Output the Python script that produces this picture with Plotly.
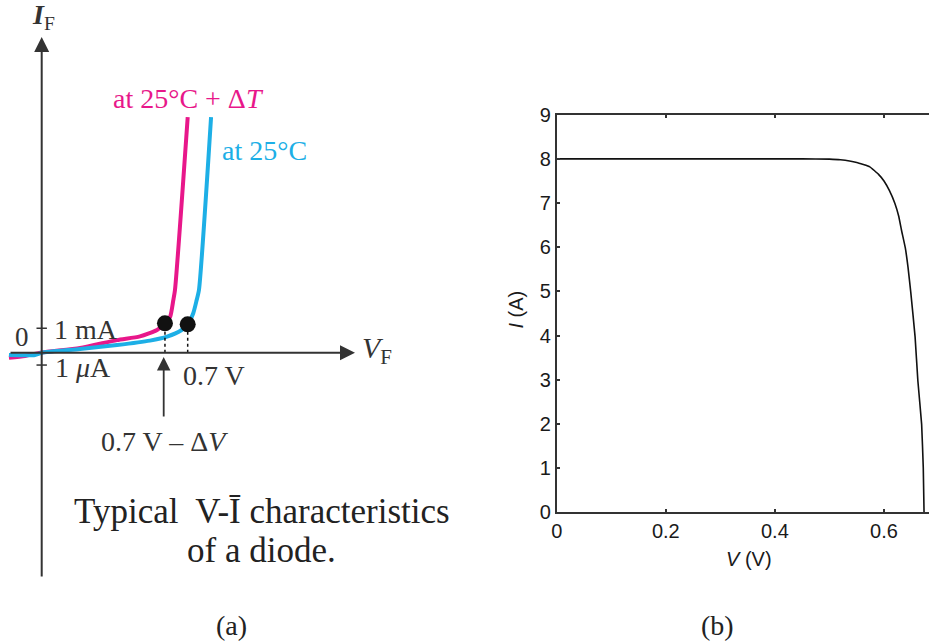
import plotly.graph_objects as go

W, H = 929, 642

# ---------------- (a) schematic diode curves (VF in V, IF in schematic mA units)
vf_hot = [-0.157, -0.080, 0.0, 0.184, 0.361, 0.471, 0.553, 0.591, 0.616, 0.631, 0.639, 0.700]
if_hot = [-0.20, -0.13, 0.01, 0.19, 0.51, 0.66, 0.92, 1.19, 1.46, 2.13, 2.54, 9.54]
vf_25 = [-0.157, -0.032, 0.0, 0.184, 0.361, 0.519, 0.601, 0.671, 0.700, 0.727, 0.743, 0.754, 0.812]
if_25 = [-0.09, -0.09, 0.0, 0.15, 0.31, 0.49, 0.65, 0.92, 1.15, 1.61, 2.13, 2.54, 9.54]
knee_vf = [0.591, 0.700]
knee_if = [1.19, 1.15]

# ---------------- (b) solar cell I-V curve
v_cell = [0, 0.1, 0.2, 0.3, 0.4, 0.45, 0.5, 0.52, 0.55, 0.574, 0.59, 0.60, 0.61, 0.62,
          0.627, 0.632, 0.639, 0.644, 0.649, 0.657, 0.662, 0.669, 0.672, 0.6734]
i_cell = [8, 8, 8, 8, 8, 8, 7.995, 7.98, 7.92, 7.82, 7.65, 7.50, 7.28, 6.99,
          6.70, 6.39, 5.99, 5.55, 4.99, 3.97, 2.99, 1.99, 1.0, 0]
x_ticks_b = [0, 0.2, 0.4, 0.6]
y_ticks_b = [0, 1, 2, 3, 4, 5, 6, 7, 8, 9]

MAGENTA = "#E8178A"
CYAN = "#1DAFE6"
INK = "#333333"
SERIF = "Liberation Serif, Times New Roman, serif"
SANS = "Liberation Sans, Arial, sans-serif"

fig = go.Figure()

fig.add_trace(go.Scatter(x=vf_hot, y=if_hot, mode="lines", xaxis="x", yaxis="y",
                         line=dict(color=MAGENTA, width=4, shape="spline", smoothing=0.6),
                         hoverinfo="skip"))
fig.add_trace(go.Scatter(x=vf_25, y=if_25, mode="lines", xaxis="x", yaxis="y",
                         line=dict(color=CYAN, width=4, shape="spline", smoothing=0.6),
                         hoverinfo="skip"))
# dotted drop lines
for v, i in zip(knee_vf, knee_if):
    fig.add_trace(go.Scatter(x=[v, v], y=[0, i], mode="lines", xaxis="x", yaxis="y",
                             line=dict(color="#111", width=1.5, dash="dot"), hoverinfo="skip"))
fig.add_trace(go.Scatter(x=knee_vf, y=knee_if, mode="markers", xaxis="x", yaxis="y",
                         marker=dict(size=16, color="#111"), hoverinfo="skip"))

# vertical axis ticks (1 mA / 1 uA)
for yv in [0.99, -0.5]:
    fig.add_trace(go.Scatter(x=[-0.025, 0.025], y=[yv, yv], mode="lines", xaxis="x", yaxis="y",
                             line=dict(color=INK, width=1.5), hoverinfo="skip"))

# (b) curve
fig.add_trace(go.Scatter(x=v_cell, y=i_cell, mode="lines", xaxis="x2", yaxis="y2",
                         line=dict(color="#111", width=1.6, shape="spline", smoothing=0.3),
                         hoverinfo="skip"))

# left panel coordinate mapping
ORIG_PX, PX_PER_V = 41.7, 208.57
ORIG_PY, PX_PER_MA = 352.7, 24.7
xa_rng = [-ORIG_PX / PX_PER_V, (W * 0.5 - ORIG_PX) / PX_PER_V]
ya_rng = [-(H - ORIG_PY) / PX_PER_MA, ORIG_PY / PX_PER_MA]

# right panel mapping
b_left, b_bottom, b_top = 556.7, 512.3, 114.7
b_px_per_v = 545.5

fig.update_layout(
    template="none",
    width=W, height=H, margin=dict(l=0, r=0, t=0, b=0, pad=0, autoexpand=False),
    paper_bgcolor="white", plot_bgcolor="rgba(0,0,0,0)", showlegend=False,
    xaxis=dict(domain=[0, 0.5], range=xa_rng, visible=False, fixedrange=True, automargin=False),
    yaxis=dict(domain=[0, 1], range=ya_rng, visible=False, fixedrange=True, automargin=False),
    xaxis2=dict(domain=[b_left / W, 1], range=[0, (W - b_left) / b_px_per_v], anchor="y2",
                tickvals=x_ticks_b, ticktext=["0", "0.2", "0.4", "0.6"],
                showline=True, linecolor=INK, linewidth=1.5, mirror="ticks",
                ticks="inside", ticklen=4, tickwidth=1.5, tickcolor=INK,
                showgrid=False, zeroline=False, automargin=False,
                tickfont=dict(family=SANS, size=20, color="#1a1a1a")),
    yaxis2=dict(domain=[(H - b_bottom) / H, (H - b_top) / H], range=[0, 9], anchor="x2",
                tickvals=y_ticks_b,
                showline=True, linecolor=INK, linewidth=1.5,
                ticks="inside", ticklen=4, tickwidth=1.5, tickcolor=INK,
                showgrid=False, zeroline=False, automargin=False,
                tickfont=dict(family=SANS, size=20, color="#1a1a1a")),
)

def vf(px):
    return (px - ORIG_PX) / PX_PER_V

def ifv(py):
    return (ORIG_PY - py) / PX_PER_MA

ann = []
# axes arrows
ann.append(dict(x=0, y=ifv(37), ax=0, ay=ifv(578), xref="x", yref="y", axref="x", ayref="y",
                showarrow=True, arrowhead=2, arrowsize=1.5, arrowwidth=2, arrowcolor=INK, text=""))
ann.append(dict(x=vf(355), y=0, ax=vf(9), ay=0, xref="x", yref="y", axref="x", ayref="y",
                showarrow=True, arrowhead=2, arrowsize=1.5, arrowwidth=2, arrowcolor=INK, text=""))
ann.append(dict(x=vf(163.7), y=ifv(357), ax=vf(163.7), ay=ifv(418), xref="x", yref="y",
                axref="x", ayref="y", showarrow=True, arrowhead=2, arrowsize=1.5,
                arrowwidth=1.8, arrowcolor=INK, text=""))

def txt(text, x, y, size, color=INK, xanchor="center", yanchor="middle", xref="x", yref="y"):
    ann.append(dict(text=text, x=x, y=y, xref=xref, yref=yref, showarrow=False,
                    xanchor=xanchor, yanchor=yanchor,
                    font=dict(family=SERIF, size=size, color=color)))

txt("<b><i>I</i></b><sub>F</sub>", vf(43), ifv(16), 28)
txt("at 25°C + Δ<i>T</i>", vf(111), ifv(98), 28, MAGENTA, xanchor="left")
txt("at 25°C", vf(220), ifv(150), 28, CYAN, xanchor="left")
txt("0", vf(21.5), ifv(337), 27)
txt("1 mA", vf(52), ifv(329), 28, xanchor="left")
txt("1 <i>μ</i>A", vf(53), ifv(367), 28, xanchor="left")
txt("0.7 V", vf(181), ifv(375), 28, xanchor="left")
txt("0.7 V – Δ<i>V</i>", vf(164.5), ifv(441), 28)
txt("<i>V</i><sub>F</sub>", vf(360), ifv(350), 30, xanchor="left")

txt("Typical\u00a0 V-Ī characteristics", 261.5 / W, 1 - 511 / H, 35, "#222",
    xref="paper", yref="paper")
txt("of a diode.", 261.5 / W, 1 - 550 / H, 35, "#222", xref="paper", yref="paper")
txt("(a)", 231 / W, 1 - 625 / H, 28, "#222", xref="paper", yref="paper")
txt("(b)", 717 / W, 1 - 625 / H, 28, "#222", xref="paper", yref="paper")

ann.append(dict(text="<i>I</i> (A)", x=515.5 / W, y=1 - 310 / H, xref="paper", yref="paper",
                xanchor="center", yanchor="middle",
                showarrow=False, textangle=-90, font=dict(family=SANS, size=20, color="#1a1a1a")))
ann.append(dict(text="<i>V</i> (V)", x=748.5 / W, y=1 - 559 / H, xref="paper", yref="paper",
                xanchor="center", yanchor="middle",
                showarrow=False, font=dict(family=SANS, size=20, color="#1a1a1a")))

fig.update_layout(annotations=ann)
fig.write_html("out.html", config={"displayModeBar": False},
               post_script="document.body.style.margin='0px';document.body.style.overflow='hidden';")
